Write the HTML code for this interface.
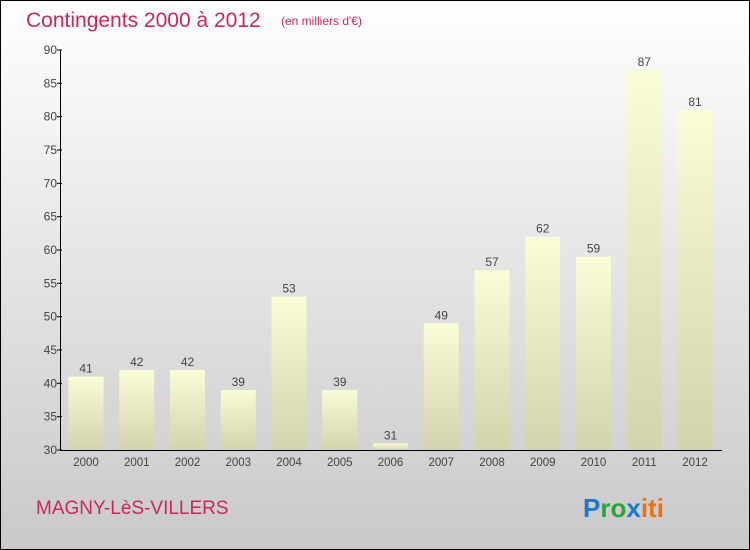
<!DOCTYPE html>
<html><head><meta charset="utf-8"><style>
body{margin:0;width:750px;height:550px;overflow:hidden;font-family:"Liberation Sans",sans-serif}
svg{display:block}
</style></head><body>
<svg id="c" width="750" height="550">
<defs>
<linearGradient id="bg" x1="0" y1="0" x2="0" y2="1"><stop offset="0" stop-color="#ffffff"/><stop offset="1" stop-color="#c9c9c9"/></linearGradient>
<linearGradient id="bar" x1="0" y1="0" x2="0" y2="1"><stop offset="0" stop-color="#fbfcd8"/><stop offset="1" stop-color="#d3d3ac"/></linearGradient>
</defs>
<rect x="0.5" y="0.5" width="749" height="549" fill="url(#bg)" stroke="#000"/>
<text x="26" y="27" font-size="21" fill="#c8285a">Contingents 2000 à 2012</text>
<text x="281" y="25" font-size="12" fill="#c8285a">(en milliers d'€)</text>
<text x="36" y="514" font-size="19" fill="#c8285a">MAGNY-LèS-VILLERS</text>
<g font-size="26" font-weight="bold"><text x="583" y="517"><tspan fill="#1a78d0">P</tspan><tspan fill="#2aa33a">ro</tspan><tspan fill="#1a78d0">x</tspan><tspan fill="#f07010">iti</tspan></text></g>
<g id="plot"></g>
</svg>
<script>
const categories=["2000","2001","2002","2003","2004","2005","2006","2007","2008","2009","2010","2011","2012"];
const values=[41,42,42,39,53,39,31,49,57,62,59,87,81];
const yTicks=[30,35,40,45,50,55,60,65,70,75,80,85,90];
const NS="http://www.w3.org/2000/svg";
const g=document.getElementById("plot");
const y=v=>450-(v-30)*400/60;
const x=i=>86+i*50.75;
function el(t,a,txt){const e=document.createElementNS(NS,t);for(const k in a)e.setAttribute(k,a[k]);if(txt!=null)e.textContent=txt;g.appendChild(e);return e;}
values.forEach((v,i)=>{
 const b=el("rect",{x:x(i)-17.5,y:y(v),width:35,height:450-y(v),fill:"url(#bar)"});
 
 
 const t=el("text",{x:x(i),y:y(v)-4,"font-size":12,fill:"#444","text-anchor":"middle"},String(v));
 
 
 const c=el("text",{x:x(i),y:466,"font-size":11.5,fill:"#444","text-anchor":"middle"},categories[i]);
 
 
});
yTicks.forEach(v=>{
 const l=el("line",{x1:57,x2:62,y1:y(v),y2:y(v),stroke:"#000"});
 
 
 const t=el("text",{x:57,y:y(v)+4,"font-size":12,fill:"#444","text-anchor":"end"},String(v));
 
 
});
const ya=el("line",{x1:60.5,x2:60.5,y1:50,y2:450,stroke:"#000"});


const xa=el("line",{x1:60,x2:722,y1:450.5,y2:450.5,stroke:"#000"});


</script>
</body></html>
